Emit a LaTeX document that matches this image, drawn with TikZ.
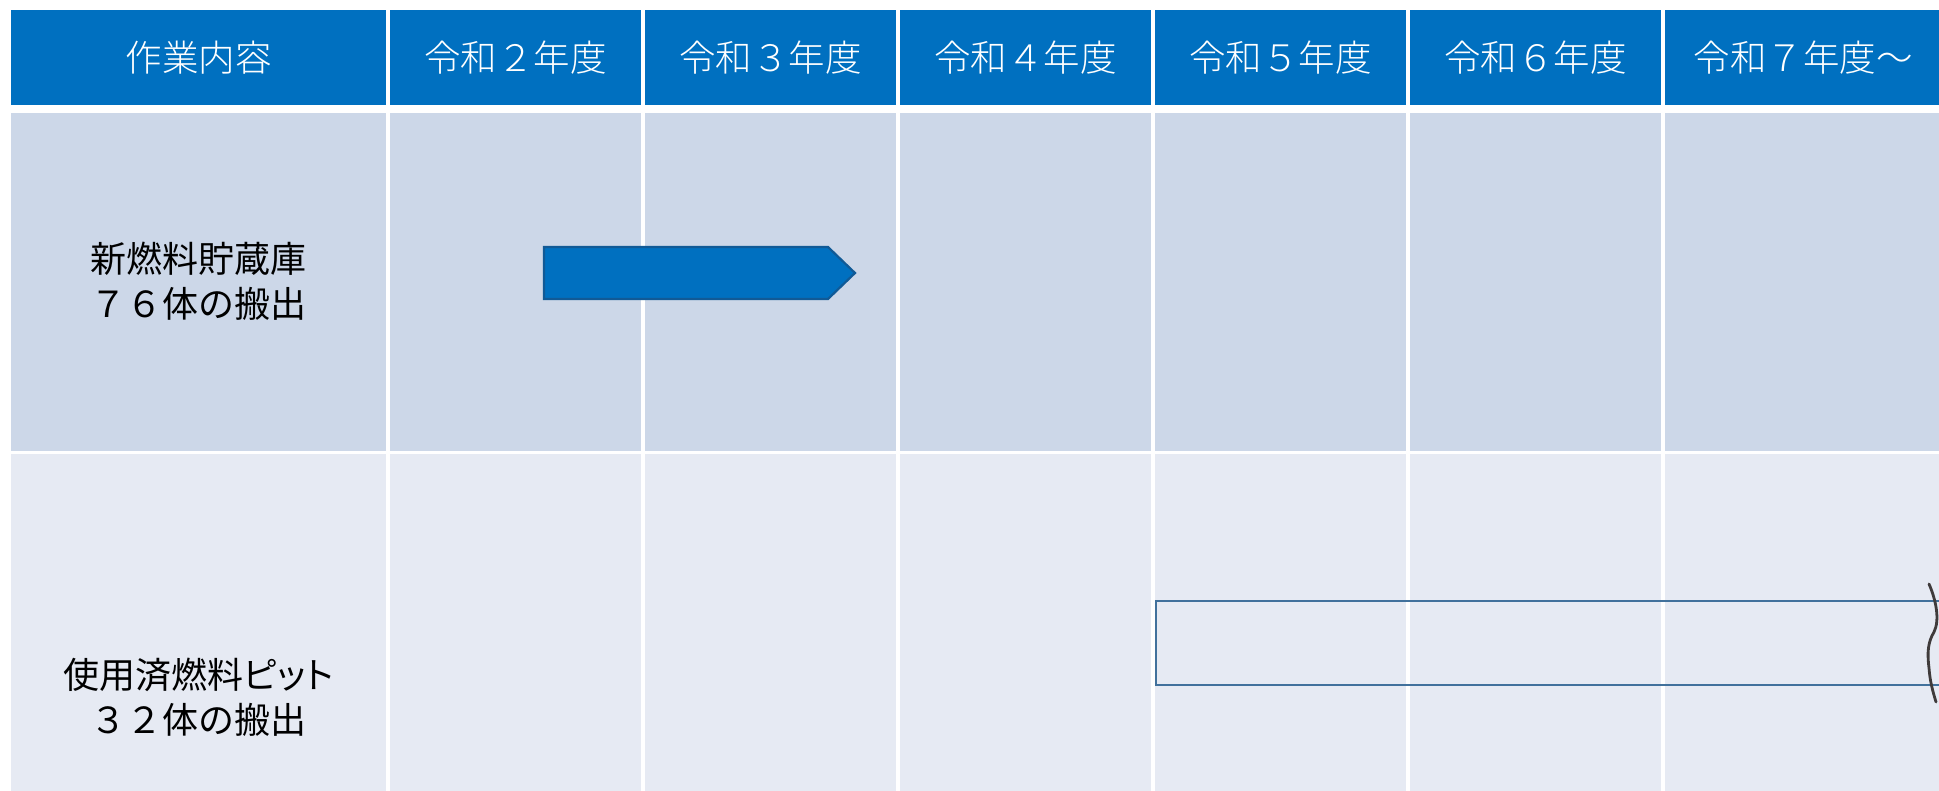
\documentclass[tikz,border=0pt]{standalone}
\usepackage{fontspec}
\newfontfamily\jp{Noto Sans CJK JP}
\newfontfamily\jpp[RawFeature=+palt]{Noto Sans CJK JP}
\newfontfamily\jplight{Noto Sans CJK JP Light}
\definecolor{hdrblue}{HTML}{0070C0}
\definecolor{rowone}{HTML}{CCD7E8}
\definecolor{rowtwo}{HTML}{E6EAF3}
\definecolor{arrowedge}{HTML}{115A96}
\definecolor{baredge}{HTML}{41719C}
\definecolor{squig}{HTML}{3F3B3B}
\tikzset{
  hdrtext/.style={text=white, font=\jplight\fontsize{36.5}{44}\selectfont, inner sep=0pt},
  rowtext/.style={text=black, font=\jp\fontsize{36}{45}\selectfont, align=center, inner sep=0pt},
}
\begin{document}
\begin{tikzpicture}[x=1pt,y=-1pt]
\useasboundingbox (0,0) rectangle (1939,791);
\clip (0,0) rectangle (1939,791);
\fill[white] (0,0) rectangle (1939,791);
% column edges
\def\cols{11/386,390/641,645/896,900/1151,1155/1406,1410/1661,1665/1945}
\foreach \a/\b in \cols {
  \fill[hdrblue] (\a,10) rectangle (\b,105);
  \fill[rowone] (\a,113) rectangle (\b,451);
  \fill[rowtwo] (\a,454) rectangle (\b,795);
}
% header texts
\node[hdrtext] (h0) at (198.5,57.5) {作業内容};
\node[hdrtext] (h2) at (515.5,57.5) {令和２年度};
\node[hdrtext] (h3) at (770.5,57.5) {令和３年度};
\node[hdrtext] (h4) at (1025.5,57.5) {令和４年度};
\node[hdrtext] (h5) at (1280.5,57.5) {令和５年度};
\node[hdrtext] (h6) at (1535.5,57.5) {令和６年度};
\node[hdrtext] (h7) at (1803,57.5) {令和７年度～};
% row labels
\node[rowtext] (r1) at (198.5,281) {新燃料貯蔵庫\\７６体の搬出};
\node[rowtext] (r2) at (198.5,697) {{\jpp 使用済燃料ピット}\\３２体の搬出};
% arrow 1
\draw[fill=hdrblue, draw=arrowedge, line width=2.2pt, line join=miter]
  (544,247) -- (828,247) -- (855,273) -- (828,299) -- (544,299) -- cycle;
% bar 2
\draw[draw=baredge, line width=2.2pt] (1950,601) -- (1156,601) -- (1156,685) -- (1950,685);
% break mark
\draw[squig, line width=2.8pt, line cap=round]
  (1929,584) .. controls (1936,600) and (1940,620) .. (1934,632)
  .. controls (1928,642) and (1927,652) .. (1929,668)
  .. controls (1930,682) and (1933,692) .. (1936,702);
\end{tikzpicture}
\end{document}
